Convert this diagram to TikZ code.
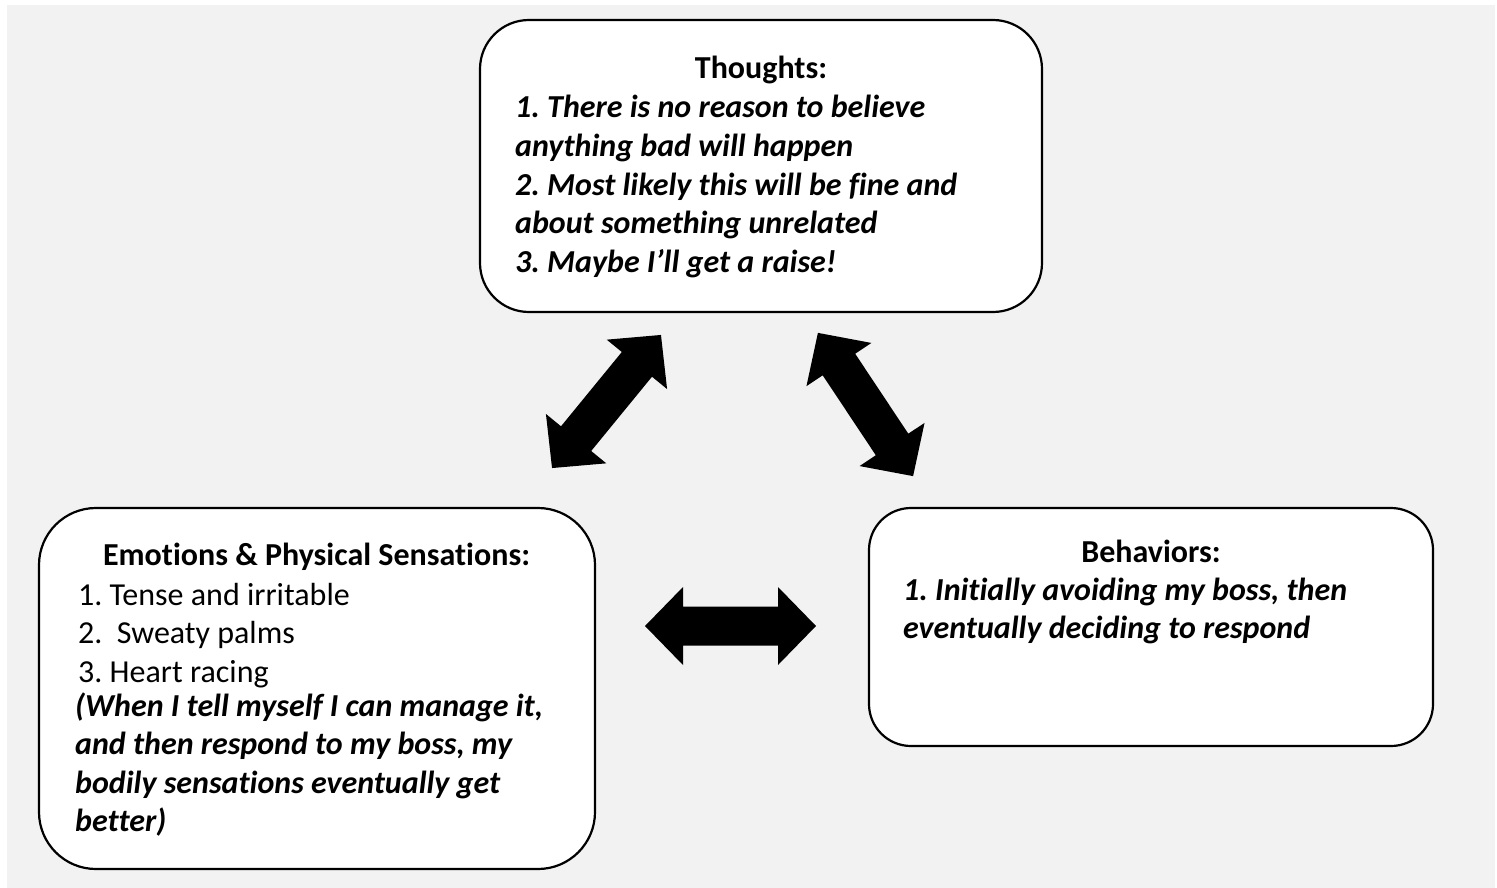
\documentclass[tikz,border=0pt]{standalone}
\usepackage{fontspec}
\setmainfont{Carlito}[Ligatures={NoCommon}]
\definecolor{bg}{HTML}{F2F2F2}
\tikzset{
  box/.style={draw=black, line width=2.2pt, fill=white, inner sep=0pt},
  txt/.style={font=\fontsize{32}{38.6}\selectfont\frenchspacing, inner sep=0pt, anchor=base west},
  head/.style={font=\fontsize{32}{38.6}\selectfont\bfseries, inner sep=0pt, anchor=base},
  bitxt/.style={txt, font=\fontsize{32}{38.6}\selectfont\frenchspacing\bfseries\itshape},
  blockarrow/.style={fill=black},
}
\newcommand\dblarrow[3]{%
  \fill[blockarrow, shift={#1}, rotate=#2]
    (-#3,0) -- ({-#3+38},-39) -- ({-#3+38},-19.5) -- ({#3-38},-19.5) -- ({#3-38},-39)
    -- (#3,0) -- ({#3-38},39) -- ({#3-38},19.5) -- ({-#3+38},19.5) -- ({-#3+38},39) -- cycle;}
\begin{document}
\begin{tikzpicture}[x=1pt,y=-1pt]
  \useasboundingbox (0,0) rectangle (1497,888);
  \fill[white] (0,0) rectangle (1497,888);
  \fill[bg] (7,5) rectangle (1495,888);

  % boxes
  \node[box, rounded corners=49pt, minimum width=562pt, minimum height=292pt] (thoughts) at (761,166) {};
  \node[box, rounded corners=57pt, minimum width=556pt, minimum height=361pt] (emotions) at (317,688.5) {};
  \node[box, rounded corners=42pt, minimum width=564pt, minimum height=238pt] (behaviors) at (1151,627) {};

  % Thoughts text
  \node[head] (thead) at (761,79) {Thoughts:};
  \node[bitxt] (tlist) at (515,118)
    {\vtop{\hbox{1. There is no reason to believe}\hbox{anything bad will happen}\hbox{2. Most likely this will be fine and}\hbox{about something unrelated}\hbox{3. Maybe I’ll get a raise!}}};

  % Emotions text
  \node[head] (ehead) at (316.5,565) {Emotions \& Physical Sensations:};
  \node[txt] (elist) at (78,605)
    {\vtop{\hbox{1. Tense and irritable}\hbox{2.\ \ Sweaty palms}\hbox{3. Heart racing}}};
  \node[bitxt] (enote) at (75,716)
    {\vtop{\hbox{(When I tell myself I can manage it,}\hbox{and then respond to my boss, my}\hbox{bodily sensations eventually get}\hbox{better)}}};

  % Behaviors text
  \node[head] (bhead) at (1151,562) {Behaviors:};
  \node[bitxt] (blist) at (903,600)
    {\vtop{\hbox{1. Initially avoiding my boss, then}\hbox{eventually deciding to respond}}};

  % block double arrows
  \coordinate (a1) at (606.5,401.5);
  \coordinate (a2) at (865.5,404.5);
  \coordinate (a3) at (730.5,626);
  \dblarrow{(a1)}{50.7}{86}
  \dblarrow{(a2)}{-56.4}{86}
  \dblarrow{(a3)}{0}{85.5}
\end{tikzpicture}
\end{document}
